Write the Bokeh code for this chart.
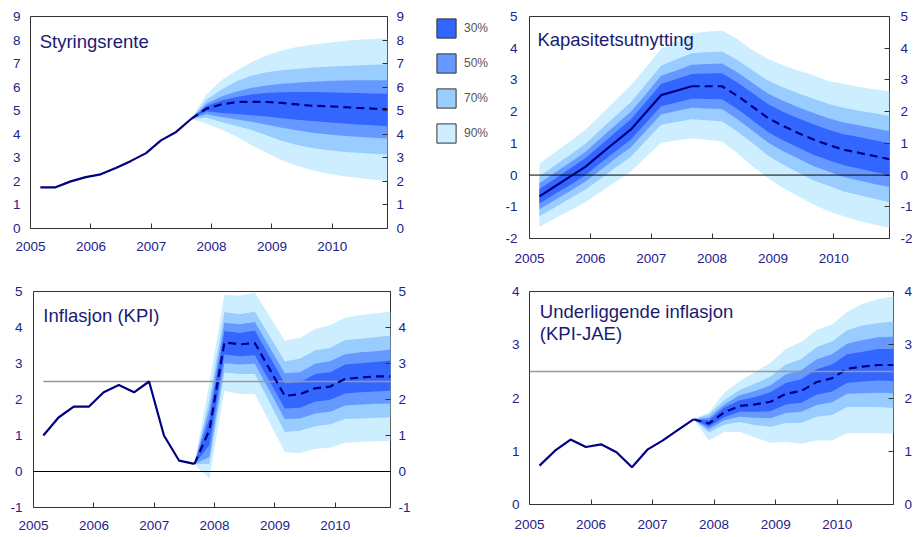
import pandas as pd
from datetime import datetime
from bokeh.plotting import figure
from bokeh.models import (LinearAxis, FixedTicker, DatetimeTickFormatter, Range1d,
                          Span, Label, Legend, LegendItem, PrintfTickFormatter)
from bokeh.layouts import row, column
from bokeh.embed import file_html
from bokeh.resources import INLINE

# ---------------- data ----------------
quarters = ["2005Q1", "2005Q2", "2005Q3", "2005Q4", "2006Q1", "2006Q2", "2006Q3", "2006Q4",
            "2007Q1", "2007Q2", "2007Q3", "2007Q4", "2008Q1", "2008Q2", "2008Q3", "2008Q4",
            "2009Q1", "2009Q2", "2009Q3", "2009Q4", "2010Q1", "2010Q2", "2010Q3", "2010Q4"]
forecast_start = 10          # index of 2007Q3, last observed quarter
year_ticks = [2005, 2006, 2007, 2008, 2009, 2010]
band_labels = ["30%", "50%", "70%", "90%"]
inflation_target = 2.5

# Styringsrente
rate_center = [1.75, 1.75, 2.00, 2.18, 2.30, 2.57, 2.87, 3.20, 3.74, 4.10, 4.66,
               5.09, 5.27, 5.37, 5.38, 5.37, 5.33, 5.27, 5.21, 5.19, 5.16, 5.12, 5.09, 5.06]
rate_hi90 = [4.66, 5.69, 6.29, 6.71, 7.07, 7.35, 7.56, 7.70, 7.80, 7.88, 7.96, 8.01, 8.04, 8.08]
rate_hi70 = [4.66, 5.45, 5.90, 6.25, 6.50, 6.63, 6.72, 6.77, 6.83, 6.87, 6.90, 6.92, 6.95, 6.97]
rate_hi50 = [4.66, 5.30, 5.60, 5.82, 5.97, 6.07, 6.14, 6.19, 6.23, 6.26, 6.28, 6.29, 6.29, 6.29]
rate_hi30 = [4.66, 5.20, 5.43, 5.58, 5.69, 5.75, 5.78, 5.79, 5.79, 5.78, 5.76, 5.75, 5.73, 5.72]
rate_lo30 = [4.66, 4.98, 4.90, 4.86, 4.81, 4.75, 4.68, 4.62, 4.56, 4.51, 4.47, 4.42, 4.38, 4.34]
rate_lo50 = [4.66, 4.85, 4.73, 4.63, 4.53, 4.40, 4.28, 4.17, 4.07, 4.00, 3.94, 3.89, 3.85, 3.82]
rate_lo70 = [4.66, 4.70, 4.52, 4.35, 4.18, 3.95, 3.72, 3.55, 3.42, 3.33, 3.26, 3.22, 3.17, 3.14]
rate_lo90 = [4.66, 4.45, 4.20, 3.89, 3.53, 3.21, 2.90, 2.66, 2.47, 2.33, 2.23, 2.15, 2.08, 2.02]

# Kapasitetsutnytting (fan over the whole period)
gap_center = [-0.67, -0.36, -0.05, 0.26, 0.65, 1.05, 1.44, 1.98, 2.52, 2.66, 2.80, 2.80,
              2.80, 2.50, 2.15, 1.80, 1.55, 1.33, 1.12, 0.95, 0.80, 0.70, 0.60, 0.50]
gap_hi90 = [0.36, 0.71, 1.07, 1.42, 1.89, 2.36, 2.83, 3.40, 3.98, 4.22, 4.47, 4.52,
            4.56, 4.29, 3.93, 3.67, 3.46, 3.30, 3.15, 2.96, 2.88, 2.78, 2.71, 2.64]
gap_hi70 = [-0.04, 0.30, 0.64, 0.98, 1.42, 1.86, 2.30, 2.87, 3.45, 3.65, 3.84, 3.87,
            3.90, 3.63, 3.30, 2.98, 2.77, 2.58, 2.41, 2.24, 2.12, 2.03, 1.95, 1.86]
gap_hi50 = [-0.26, 0.07, 0.40, 0.73, 1.15, 1.58, 2.00, 2.56, 3.13, 3.30, 3.48, 3.50,
            3.52, 3.24, 2.90, 2.57, 2.34, 2.14, 1.96, 1.79, 1.66, 1.57, 1.48, 1.38]
gap_hi30 = [-0.44, -0.12, 0.21, 0.53, 0.93, 1.35, 1.76, 2.31, 2.87, 3.03, 3.19, 3.20,
            3.21, 2.92, 2.58, 2.24, 2.00, 1.79, 1.60, 1.43, 1.29, 1.20, 1.10, 1.00]
gap_lo30 = [-0.90, -0.60, -0.31, -0.01, 0.37, 0.75, 1.12, 1.65, 2.17, 2.29, 2.41, 2.40,
            2.39, 2.08, 1.72, 1.36, 1.10, 0.87, 0.64, 0.47, 0.31, 0.21, 0.10, 0.00]
gap_lo50 = [-1.08, -0.79, -0.50, -0.21, 0.15, 0.52, 0.88, 1.40, 1.91, 2.02, 2.12, 2.10,
            2.08, 1.76, 1.40, 1.03, 0.76, 0.52, 0.28, 0.11, -0.06, -0.17, -0.28, -0.38]
gap_lo70 = [-1.30, -1.02, -0.74, -0.46, -0.12, 0.24, 0.58, 1.09, 1.59, 1.67, 1.76, 1.73,
            1.70, 1.37, 1.00, 0.62, 0.33, 0.08, -0.17, -0.34, -0.52, -0.63, -0.75, -0.86]
gap_lo90 = [-1.63, -1.37, -1.12, -0.86, -0.54, -0.21, 0.11, 0.57, 1.02, 1.09, 1.16, 1.11,
            1.06, 0.69, 0.27, -0.09, -0.41, -0.67, -0.93, -1.14, -1.30, -1.45, -1.56, -1.66]

# Inflasjon (KPI)
kpi_center = [1.00, 1.50, 1.80, 1.80, 2.20, 2.40, 2.20, 2.50, 1.00, 0.30, 0.21,
              1.15, 3.59, 3.53, 3.57, 2.83, 2.10, 2.15, 2.31, 2.36, 2.57, 2.61, 2.64, 2.64]
kpi_hi90 = [0.21, 2.45, 4.91, 4.88, 4.97, 4.30, 3.64, 3.71, 3.96, 4.06, 4.27, 4.35, 4.39, 4.44]
kpi_hi70 = [0.21, 1.99, 4.43, 4.37, 4.44, 3.75, 3.06, 3.13, 3.37, 3.43, 3.65, 3.69, 3.73, 3.78]
kpi_hi50 = [0.21, 1.74, 4.13, 4.09, 4.15, 3.44, 2.73, 2.76, 2.99, 3.06, 3.26, 3.31, 3.34, 3.39]
kpi_hi30 = [0.21, 1.47, 3.90, 3.85, 3.92, 3.18, 2.45, 2.48, 2.71, 2.76, 2.97, 3.01, 3.04, 3.08]
kpi_lo30 = [0.21, 0.73, 3.25, 3.20, 3.23, 2.49, 1.75, 1.77, 1.94, 1.99, 2.17, 2.20, 2.22, 2.24]
kpi_lo50 = [0.21, 0.40, 3.01, 2.97, 2.99, 2.22, 1.46, 1.47, 1.61, 1.66, 1.83, 1.86, 1.88, 1.89]
kpi_lo70 = [0.21, 0.21, 2.75, 2.71, 2.71, 1.90, 1.10, 1.13, 1.26, 1.31, 1.46, 1.47, 1.49, 1.50]
kpi_lo90 = [0.21, -0.20, 2.24, 2.15, 2.15, 1.35, 0.54, 0.51, 0.63, 0.66, 0.80, 0.82, 0.84, 0.84]

# Underliggende inflasjon (KPI-JAE)
jae_center = [0.73, 1.01, 1.22, 1.08, 1.13, 0.98, 0.70, 1.03, 1.20, 1.40, 1.60,
              1.52, 1.73, 1.85, 1.88, 1.93, 2.08, 2.13, 2.30, 2.37, 2.55, 2.59, 2.62, 2.62]
jae_hi90 = [1.60, 1.73, 2.10, 2.32, 2.49, 2.66, 2.92, 3.05, 3.28, 3.38, 3.62, 3.77, 3.86, 3.91]
jae_hi70 = [1.60, 1.69, 1.96, 2.15, 2.27, 2.40, 2.63, 2.73, 2.96, 3.06, 3.27, 3.36, 3.41, 3.43]
jae_hi50 = [1.60, 1.63, 1.88, 2.05, 2.13, 2.24, 2.44, 2.52, 2.73, 2.82, 3.02, 3.09, 3.14, 3.15]
jae_hi30 = [1.60, 1.58, 1.82, 1.96, 2.02, 2.11, 2.28, 2.35, 2.54, 2.63, 2.82, 2.87, 2.92, 2.92]
jae_lo30 = [1.60, 1.46, 1.64, 1.74, 1.74, 1.75, 1.88, 1.91, 2.06, 2.12, 2.28, 2.31, 2.33, 2.32]
jae_lo50 = [1.60, 1.41, 1.58, 1.65, 1.63, 1.62, 1.72, 1.74, 1.87, 1.92, 2.08, 2.09, 2.10, 2.09]
jae_lo70 = [1.60, 1.35, 1.50, 1.55, 1.49, 1.46, 1.53, 1.53, 1.65, 1.68, 1.83, 1.83, 1.83, 1.81]
jae_lo90 = [1.60, 1.20, 1.36, 1.36, 1.26, 1.16, 1.18, 1.14, 1.20, 1.20, 1.34, 1.34, 1.34, 1.33]

# ---------------- styles ----------------
FONT = "Liberation Sans"
TICK_COLOR = "#22228a"
TITLE_COLOR = "#1a1a72"
LINE_COLOR = "#000080"
FRAME_COLOR = "#333333"
band_colors = {"30%": "#3366FF", "50%": "#6699FF", "70%": "#99CCFF", "90%": "#CCEEFF"}


def qdate(q):
    return (pd.Period(q, freq="Q").start_time + pd.DateOffset(months=2)).to_pydatetime()


dates = [qdate(q) for q in quarters]
EPOCH = datetime(1970, 1, 1)
year_ms = [(datetime(y, 1, 1) - EPOCH).total_seconds() * 1000 for y in year_ticks]
X0 = datetime(2004, 12, 31, 12)
X1 = dates[-1]


def make_panel(width, height, yr, yticks, mb, std):
    p = figure(width=width, height=height, x_axis_type="datetime",
               x_range=Range1d(X0, X1), y_range=Range1d(*yr),
               output_backend="svg", toolbar_location=None,
               min_border_left=mb[0], min_border_right=mb[1],
               min_border_top=mb[2], min_border_bottom=mb[3])
    p.grid.visible = False
    p.outline_line_color = FRAME_COLOR
    p.outline_line_width = 1
    p.background_fill_color = "white"
    p.border_fill_color = "white"
    xa = p.xaxis[0]
    ya = p.yaxis[0]
    ya.ticker = FixedTicker(ticks=yticks)
    ya.formatter = PrintfTickFormatter(format="%d")
    ra = LinearAxis(ticker=FixedTicker(ticks=yticks), formatter=PrintfTickFormatter(format="%d"))
    p.add_layout(ra, "right")
    xa.ticker = FixedTicker(ticks=year_ms)
    xa.formatter = DatetimeTickFormatter(
        microseconds="%Y", milliseconds="%Y", seconds="%Y", minsec="%Y",
        minutes="%Y", hourmin="%Y", hours="%Y", days="%Y", months="%Y", years="%Y")
    for ax in (xa, ya, ra):
        ax.axis_line_color = None
        ax.minor_tick_line_color = None
        ax.major_tick_out = 0
        ax.major_tick_in = 5
        ax.major_tick_line_color = FRAME_COLOR
        ax.major_label_text_font = FONT
        ax.major_label_text_font_size = "13.5px"
        ax.major_label_text_color = TICK_COLOR
    ya.major_tick_line_color = None
    ya.major_label_standoff = std[0]
    ra.major_label_standoff = std[1]
    xa.major_label_standoff = std[2]
    return p


def add_fan(p, x, bands):
    for lab in ["90%", "70%", "50%", "30%"]:
        lo, hi = bands[lab]
        p.varea(x=x, y1=lo, y2=hi, fill_color=band_colors[lab], fill_alpha=1.0)


def add_lines(p, center):
    p.line(x=dates[:forecast_start + 1], y=center[:forecast_start + 1],
           line_color=LINE_COLOR, line_width=2.2)
    p.line(x=dates[forecast_start:], y=center[forecast_start:],
           line_color=LINE_COLOR, line_width=2.2, line_dash="8 5")


def add_title(p, x, y, text):
    p.add_layout(Label(x=x, y=y, text=text, text_font=FONT, text_font_size="18.5px",
                       text_color=TITLE_COLOR, text_baseline="alphabetic"))


fx = dates[forecast_start:]

# Panel 1: Styringsrente
p1 = make_panel(410, 266, (0, 9), list(range(0, 10)), (30, 23, 16, 38), (10, 9, 13))
add_fan(p1, fx, {"90%": (rate_lo90, rate_hi90), "70%": (rate_lo70, rate_hi70),
                 "50%": (rate_lo50, rate_hi50), "30%": (rate_lo30, rate_hi30)})
add_lines(p1, rate_center)
add_title(p1, datetime(2005, 2, 25), 7.95, "Styringsrente")

# Legend figure (proxy renderers kept outside the visible range)
leg = figure(width=90, height=276, output_backend="svg", toolbar_location=None,
             x_range=Range1d(1, 2), y_range=Range1d(1, 2),
             x_axis_location=None, y_axis_location=None,
             min_border_left=24, min_border_right=0, min_border_top=7, min_border_bottom=0)
leg.grid.visible = False
leg.outline_line_color = None
items = []
for lab in band_labels:
    r = leg.quad(left=[0], right=[0], top=[0], bottom=[0], fill_color=band_colors[lab],
                 line_color=FRAME_COLOR, line_width=1)
    items.append(LegendItem(label=lab, renderers=[r]))
legend = Legend(items=items, location="top_left", glyph_width=24, glyph_height=24,
                spacing=11, label_standoff=6, padding=0, margin=0,
                label_text_font=FONT, label_text_font_size="12px",
                label_text_color="#555555", border_line_color=None,
                background_fill_alpha=0)
leg.add_layout(legend)

# Panel 2: Kapasitetsutnytting (taller frame than panel 1)
p2 = make_panel(415, 276, (-2, 5), list(range(-2, 6)), (29, 24, 16, 38), (12, 11, 15))
add_fan(p2, dates, {"90%": (gap_lo90, gap_hi90), "70%": (gap_lo70, gap_hi70),
                    "50%": (gap_lo50, gap_hi50), "30%": (gap_lo30, gap_hi30)})
p2.add_layout(Span(location=0, dimension="width", line_color="black", line_width=1))
add_lines(p2, gap_center)
add_title(p2, datetime(2005, 2, 17), 4.29, "Kapasitetsutnytting")

# Panel 3: Inflasjon (KPI)
p3 = make_panel(420, 261, (-1, 5), list(range(-1, 6)), (33, 30, 15, 30), (11, 8, 13))
add_fan(p3, fx, {"90%": (kpi_lo90, kpi_hi90), "70%": (kpi_lo70, kpi_hi70),
                 "50%": (kpi_lo50, kpi_hi50), "30%": (kpi_lo30, kpi_hi30)})
p3.add_layout(Span(location=0, dimension="width", line_color="black", line_width=1))
p3.line(x=[dates[0], dates[-1]], y=[inflation_target, inflation_target],
        line_color="#999999", line_width=1.5)
add_lines(p3, kpi_center)
add_title(p3, datetime(2005, 3, 1), 4.32, "Inflasjon (KPI)")

# Panel 4: Underliggende inflasjon (KPI-JAE)
p4 = make_panel(495, 258, (0, 4), list(range(0, 5)), (109, 20, 15, 30), (10, 11, 15))
add_fan(p4, fx, {"90%": (jae_lo90, jae_hi90), "70%": (jae_lo70, jae_hi70),
                 "50%": (jae_lo50, jae_hi50), "30%": (jae_lo30, jae_hi30)})
p4.add_layout(Span(location=inflation_target, dimension="width", line_color="#999999",
                   line_width=1.5))
add_lines(p4, jae_center)
add_title(p4, datetime(2005, 3, 3), 3.63, "Underliggende inflasjon")
add_title(p4, datetime(2005, 3, 3), 3.21, "(KPI-JAE)")

layout = column(row(p1, leg, p2), row(p3, p4))

open("out.html", "w").write(file_html(layout, INLINE))
